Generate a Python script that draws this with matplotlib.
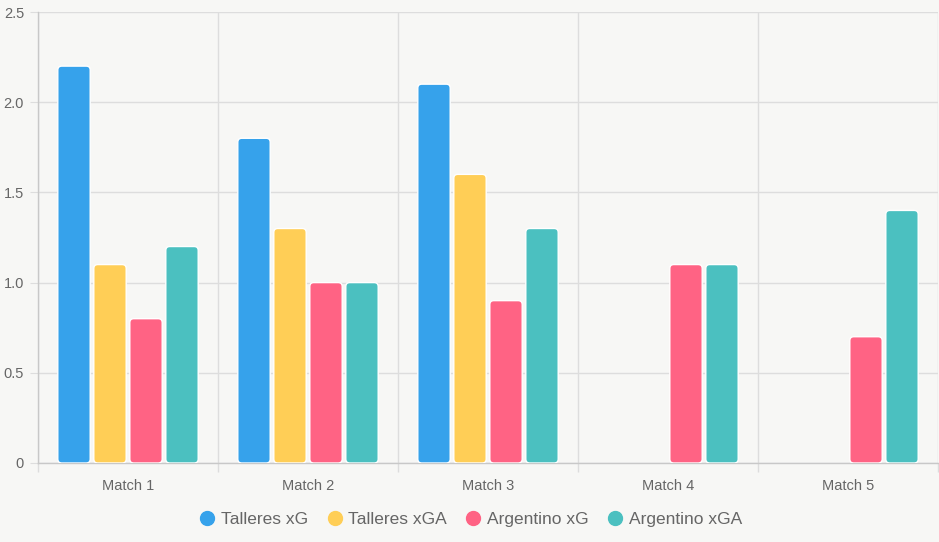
import numpy as np
import matplotlib.pyplot as plt
from matplotlib.patches import FancyBboxPatch
from matplotlib.lines import Line2D

plt.rcParams['font.family'] = ['Liberation Sans', 'DejaVu Sans']

matches = ["Match 1", "Match 2", "Match 3", "Match 4", "Match 5"]
talleres_xg = [2.2, 1.8, 2.1, 0, 0]
talleres_xga = [1.1, 1.3, 1.6, 0, 0]
argentino_xg = [0.8, 1.0, 0.9, 1.1, 0.7]
argentino_xga = [1.2, 1.0, 1.3, 1.1, 1.4]

series = [
    ("Talleres xG", talleres_xg, "#36A2EB"),
    ("Talleres xGA", talleres_xga, "#FFCE56"),
    ("Argentino xG", argentino_xg, "#FF6384"),
    ("Argentino xGA", argentino_xga, "#4BC0C0"),
]

bg = "#f7f7f5"
fig = plt.figure(figsize=(9.39, 5.42), dpi=100, facecolor=bg)
ax = fig.add_axes([38 / 939, (542 - 463) / 542, 900 / 939, 451 / 542])
ax.set_facecolor(bg)

x = np.arange(len(matches))
slot = 0.8 / len(series)
bw = slot * 0.9
for i, (name, vals, col) in enumerate(series):
    offs = x - 0.4 + slot * (i + 0.5)
    for xi, v in zip(offs, vals):
        if v <= 0:
            continue
        p = FancyBboxPatch((xi - bw / 2, 0), bw, v,
                           boxstyle="round,pad=0,rounding_size=0.022",
                           mutation_aspect=1.0,
                           facecolor=col, edgecolor="white", linewidth=1.0, zorder=3)
        ax.add_patch(p)

ax.set_xlim(-0.5, len(matches) - 0.5)
ax.set_ylim(0, 2.5)

ax.set_yticks([0, 0.5, 1.0, 1.5, 2.0, 2.5])
ax.set_yticklabels(["0", "0.5", "1.0", "1.5", "2.0", "2.5"])
ax.set_xticks(x)
ax.set_xticklabels(matches)
ax.set_xticks(np.arange(len(matches) + 1) - 0.5, minor=True)

ax.tick_params(axis="x", which="major", length=0, pad=11.5, labelsize=10.5, labelcolor="#666666")
ax.tick_params(axis="x", which="minor", length=6.5, color="#dddddd", width=1)
ax.tick_params(axis="y", length=6, color="#dddddd", pad=4, labelsize=10.5, labelcolor="#666666")

ax.grid(axis="y", which="major", color="#dddddd", linewidth=1, zorder=0)
ax.grid(axis="x", which="minor", color="#dddddd", linewidth=1, zorder=0)
ax.set_axisbelow(True)

for s in ["top", "right"]:
    ax.spines[s].set_visible(False)
for s in ["left", "bottom"]:
    ax.spines[s].set_color("#c8c8c8")
    ax.spines[s].set_linewidth(1)

handles = [Line2D([], [], linestyle="none", marker="o", markersize=10,
                  markerfacecolor=c, markeredgecolor=c) for _, _, c in series]
fig.legend(handles, [s[0] for s in series], loc="center", bbox_to_anchor=(0.5, 1 - 519 / 542),
           ncol=4, frameon=False, fontsize=12.5, handletextpad=0.2, columnspacing=0.9,
           handlelength=1.2, labelcolor="#666666")

fig.savefig("out.png", dpi=100, facecolor=bg)
